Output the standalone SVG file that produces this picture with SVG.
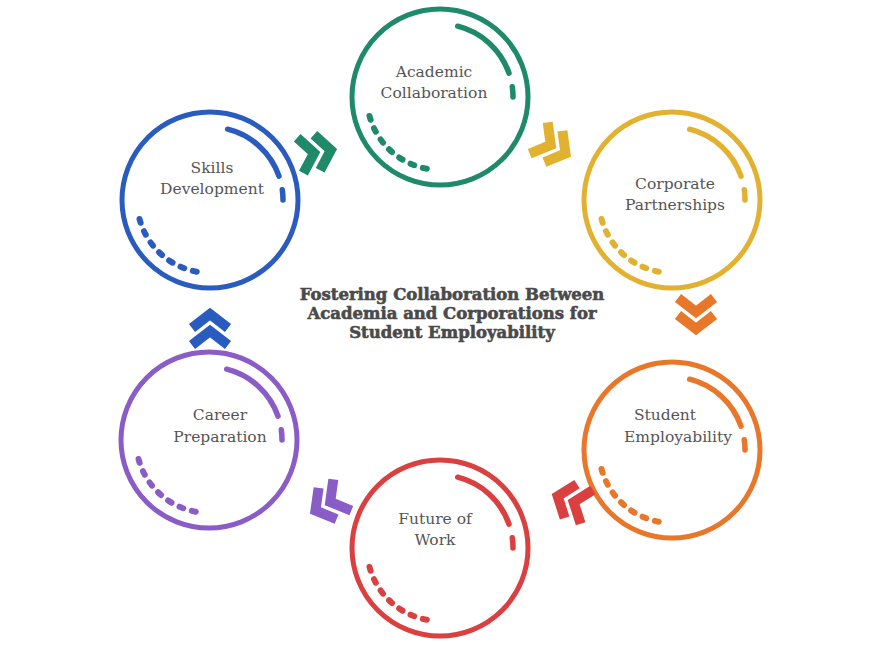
<svg xmlns="http://www.w3.org/2000/svg" xmlns:xlink="http://www.w3.org/1999/xlink" width="882" height="664" viewBox="0 0 882 664">
<style>
.ring{fill:none;stroke-width:5}
.deco{fill:none;stroke-width:5.5;stroke-linecap:round}
.dash{fill:none;stroke-width:6;stroke-linecap:round;stroke-dasharray:4 9}
.lbl{font-family:"DejaVu Serif",serif;font-size:15.5px;fill:#555;text-anchor:middle}
.title{font-family:"DejaVu Serif",serif;font-weight:bold;font-size:16.5px;fill:#4a4a4a;text-anchor:middle;stroke:#4a4a4a;stroke-width:0.6}
.chev{fill:none;stroke-width:10;stroke-linejoin:miter}
</style>
<defs>
<g id="deco">
<circle class="ring" r="88"/>
<path class="deco" d="M17.7,-70.8 A73,73 0 0 1 69,-23.8"/>
<path class="deco" d="M72.3,-10.2 A73,73 0 0 1 73,0"/>
<path class="dash" d="M-70.5,19 A73,73 0 0 0 -8,72.5"/>
</g>
<g id="chev">
<polyline points="-20,-18 -6,0 -20,18"/>
<polyline points="-3,-18 11,0 -3,18"/>
</g>
</defs>
<rect width="882" height="664" fill="#fff"/>
<g id="node-academic" stroke="#1f8a6a"><use xlink:href="#deco" x="440" y="97"/><text class="lbl" x="434" y="77" stroke="none">Academic</text><text class="lbl" x="434" y="98" stroke="none">Collaboration</text></g>
<g id="node-corporate" stroke="#e2b12f"><use xlink:href="#deco" x="672" y="200"/><text class="lbl" x="675" y="189" stroke="none">Corporate</text><text class="lbl" x="675" y="210" stroke="none">Partnerships</text></g>
<g id="node-student" stroke="#e8772a"><use xlink:href="#deco" x="672" y="450"/><text class="lbl" x="665" y="420" stroke="none">Student</text><text class="lbl" x="678" y="442" stroke="none">Employability</text></g>
<g id="node-future" stroke="#d9403f"><use xlink:href="#deco" x="440" y="548"/><text class="lbl" x="435" y="524" stroke="none">Future of</text><text class="lbl" x="435" y="545" stroke="none">Work</text></g>
<g id="node-career" stroke="#8a5cc8"><use xlink:href="#deco" x="209" y="440"/><text class="lbl" x="220" y="420" stroke="none">Career</text><text class="lbl" x="220" y="442" stroke="none">Preparation</text></g>
<g id="node-skills" stroke="#2a5cc0"><use xlink:href="#deco" x="210" y="200"/><text class="lbl" x="212" y="173" stroke="none">Skills</text><text class="lbl" x="212" y="194" stroke="none">Development</text></g>
<g id="connectors" class="chev">
<use xlink:href="#chev" stroke="#1f8a6a" transform="translate(320,152) rotate(-10)"/>
<use xlink:href="#chev" stroke="#e2b12f" transform="translate(556,148) rotate(30)"/>
<use xlink:href="#chev" stroke="#e8772a" transform="translate(696,318) rotate(90)"/>
<use xlink:href="#chev" stroke="#d9403f" transform="translate(568,500) rotate(200)"/>
<use xlink:href="#chev" stroke="#8a5cc8" transform="translate(325,505) rotate(150)"/>
<use xlink:href="#chev" stroke="#2a5cc0" transform="translate(210,325) rotate(-90)"/>
</g>
<g id="title">
<text class="title" x="452" y="300">Fostering Collaboration Between</text>
<text class="title" x="452" y="319">Academia and Corporations for</text>
<text class="title" x="452" y="338">Student Employability</text>
</g>
</svg>
